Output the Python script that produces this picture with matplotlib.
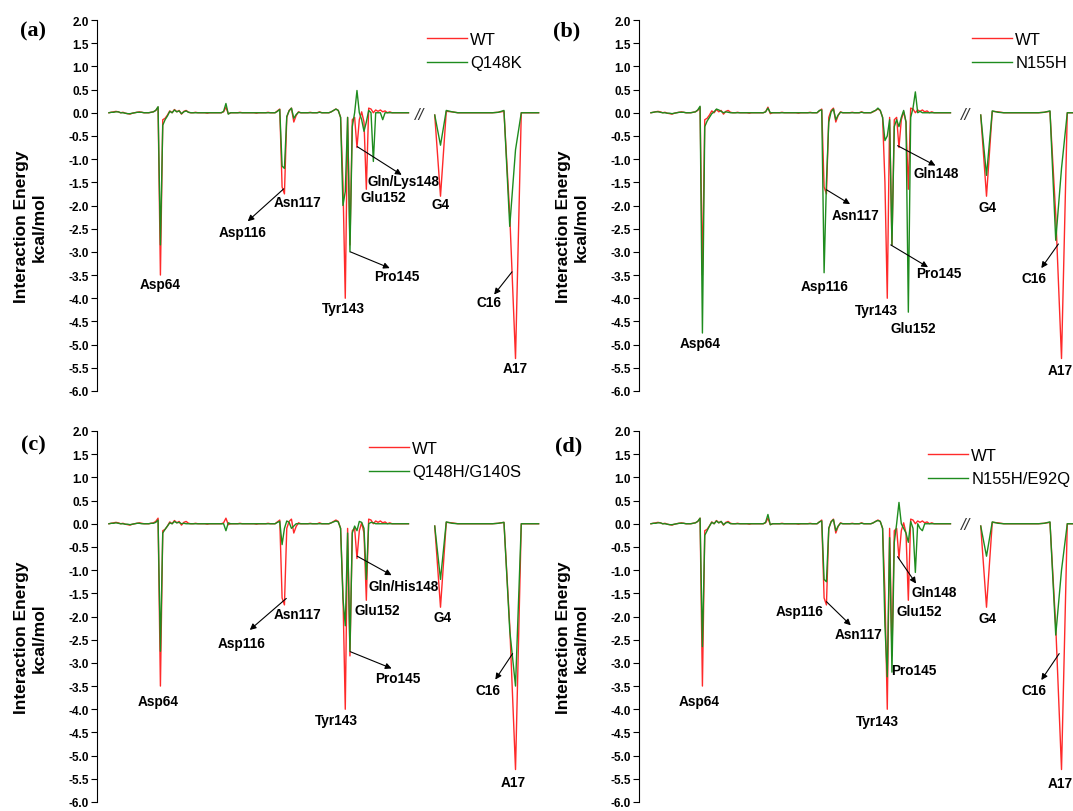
import numpy as np
import matplotlib.pyplot as plt

plt.rcParams['font.family'] = ['Liberation Sans', 'DejaVu Sans']

# x axis: protein residues, then (after the break) RNA nucleotides
prot_res = list(range(42, 171))
rna_nt = list(range(3, 22))

# interaction energy per residue (kcal/mol)
# rows of ten residues: 42-51, 52-61, ... 162-170
wt_prot = [
    0.0, 0.01, 0.02, 0.03, 0.02, 0.0, 0.01, -0.01, -0.02, -0.03,
    -0.01, 0.0, 0.01, 0.02, 0.01, 0.0, 0.0, 0.0, 0.01, 0.02,
    0.05, 0.12, -3.5, -0.15, -0.12, -0.05, 0.04, 0.0, 0.07, 0.02,
    0.05, -0.03, 0.03, 0.05, 0.01, 0.0, 0.0, 0.01, 0.0, 0.0,
    0.0, 0.0, -0.01, 0.0, 0.0, 0.0, 0.0, 0.0, 0.0, 0.02,
    0.12, -0.02, 0.0, 0.0, 0.0, 0.0, 0.01, 0.0, 0.0, 0.0,
    0.0, 0.0, 0.0, -0.01, 0.0, 0.0, 0.0, 0.0, 0.01, 0.0,
    0.0, 0.0, 0.04, 0.08, -1.6, -1.75, -0.1, 0.05, 0.1, -0.2,
    -0.06, 0.02, 0.0, 0.0, 0.0, 0.0, 0.01, 0.0, 0.0, 0.0,
    0.02, 0.0, 0.0, 0.0, 0.0, 0.02, 0.05, 0.08, 0.05, -0.1,
    -1.5, -4.0, -0.1, -2.85, -0.15, -0.1, -0.75, -0.15, 0.02, -0.2,
    -1.65, 0.1, 0.08, 0.0, 0.06, 0.03, 0.06, 0.02, 0.04, 0.0,
    0.02, 0.0, 0.0, 0.0, 0.0, 0.0, 0.0, 0.0, 0.0,
]
q148k_prot = [
    0.0, 0.01, 0.01, 0.02, 0.02, 0.0, 0.0, -0.01, -0.02, -0.02,
    -0.01, 0.0, 0.01, 0.01, 0.01, 0.0, 0.0, 0.0, 0.01, 0.02,
    0.05, 0.13, -2.85, -0.27, -0.15, -0.07, 0.03, 0.0, 0.06, 0.02,
    0.04, -0.02, 0.02, 0.04, 0.01, 0.0, 0.0, 0.0, 0.0, 0.0,
    0.0, 0.0, 0.0, 0.0, 0.0, 0.0, 0.0, 0.0, 0.0, 0.03,
    0.2, -0.03, 0.0, 0.0, 0.0, 0.0, 0.0, 0.0, 0.0, 0.0,
    0.0, 0.0, 0.0, 0.0, 0.0, 0.0, 0.0, 0.0, 0.0, 0.0,
    0.0, 0.0, 0.03, 0.07, -1.15, -1.2, -0.08, 0.04, 0.1, -0.12,
    -0.04, 0.01, 0.0, 0.0, 0.0, 0.0, 0.0, 0.0, 0.0, 0.0,
    0.01, 0.0, 0.0, 0.0, 0.0, 0.02, 0.05, 0.08, 0.05, -0.1,
    -2.0, -1.7, -0.1, -3.0, -0.3, 0.0, 0.48, 0.0, -0.15, -0.4,
    -0.2, 0.05, 0.0, -1.05, 0.0, 0.0, 0.0, -0.15, 0.0, 0.0,
    0.0, 0.0, 0.0, 0.0, 0.0, 0.0, 0.0, 0.0, 0.0,
]
n155h_prot = [
    0.0, 0.01, 0.02, 0.02, 0.01, 0.0, 0.0, -0.01, -0.01, -0.02,
    -0.01, 0.0, 0.01, 0.01, 0.01, 0.0, 0.0, 0.0, 0.01, 0.02,
    0.06, 0.14, -4.75, -0.3, -0.18, -0.1, -0.02, 0.02, 0.08, 0.06,
    0.03, 0.0, 0.02, 0.01, 0.0, 0.0, 0.0, 0.0, 0.0, 0.0,
    0.0, 0.0, 0.0, 0.0, 0.0, 0.0, 0.0, 0.0, 0.0, 0.02,
    0.1, 0.0, 0.0, 0.0, 0.0, 0.0, 0.0, 0.0, 0.0, 0.0,
    0.0, 0.0, 0.0, 0.0, 0.0, 0.0, 0.0, 0.0, 0.0, 0.0,
    0.0, 0.0, 0.05, 0.06, -3.45, -1.5, -0.2, 0.02, 0.08, -0.15,
    -0.05, 0.01, 0.0, 0.0, 0.0, 0.0, 0.0, 0.0, 0.0, 0.0,
    0.01, 0.0, 0.0, 0.0, 0.0, 0.03, 0.05, 0.1, 0.05, -0.1,
    -0.6, -0.5, -0.15, -2.85, -0.3, -0.15, -0.3, -0.1, 0.05, -0.2,
    -4.3, -0.1, 0.1, 0.45, 0.0, 0.03, 0.0, 0.0, 0.0, 0.0,
    0.0, 0.0, 0.0, 0.0, 0.0, 0.0, 0.0, 0.0, 0.0,
]
q148h_g140s_prot = [
    0.0, 0.01, 0.01, 0.02, 0.01, 0.0, 0.0, -0.01, -0.01, -0.02,
    -0.01, 0.0, 0.01, 0.01, 0.0, 0.0, 0.0, 0.0, 0.01, 0.01,
    0.03, 0.08, -2.75, -0.2, -0.12, -0.05, 0.02, 0.0, 0.05, 0.02,
    0.03, 0.0, 0.01, 0.0, 0.0, 0.0, 0.0, 0.0, 0.0, 0.0,
    0.0, 0.0, 0.0, 0.0, 0.0, 0.0, 0.0, 0.0, 0.0, 0.0,
    -0.15, 0.02, 0.0, 0.0, 0.0, 0.0, 0.0, 0.0, 0.0, 0.0,
    0.0, 0.0, 0.0, 0.0, 0.0, 0.0, 0.0, 0.0, 0.0, 0.0,
    0.0, 0.0, 0.03, 0.05, -0.45, -0.1, 0.06, 0.03, -0.1, -0.05,
    0.0, 0.0, 0.0, 0.0, 0.0, 0.0, 0.0, 0.0, 0.0, 0.0,
    0.0, 0.0, 0.0, 0.0, 0.0, 0.02, 0.04, 0.06, 0.04, -0.1,
    -1.6, -2.2, -0.2, -2.75, -0.2, -0.05, -0.15, 0.05, 0.03, -0.1,
    -1.2, 0.0, 0.03, 0.02, 0.0, 0.0, 0.0, 0.0, 0.0, 0.0,
    0.0, 0.0, 0.0, 0.0, 0.0, 0.0, 0.0, 0.0, 0.0,
]
n155h_e92q_prot = [
    0.0, 0.01, 0.01, 0.02, 0.02, 0.0, 0.0, -0.01, -0.02, -0.02,
    -0.01, 0.0, 0.01, 0.01, 0.01, 0.0, 0.0, 0.0, 0.01, 0.02,
    0.05, 0.12, -2.65, -0.25, -0.15, -0.05, 0.03, 0.0, 0.06, 0.02,
    0.05, -0.02, 0.02, 0.03, 0.0, 0.0, 0.0, 0.0, 0.0, 0.0,
    0.0, 0.0, 0.0, 0.0, 0.0, 0.0, 0.0, 0.0, 0.0, 0.03,
    0.2, -0.02, 0.0, 0.0, 0.0, 0.0, 0.0, 0.0, 0.0, 0.0,
    0.0, 0.0, 0.0, 0.0, 0.0, 0.0, 0.0, 0.0, 0.0, 0.0,
    0.0, 0.0, 0.04, 0.06, -1.2, -1.25, -0.1, 0.04, 0.09, -0.15,
    -0.05, 0.01, 0.0, 0.0, 0.0, 0.0, 0.0, 0.0, 0.0, 0.0,
    0.01, 0.0, 0.0, 0.0, 0.0, 0.02, 0.05, 0.07, 0.05, -0.1,
    -2.2, -3.3, -0.3, -3.2, -0.4, 0.0, 0.46, 0.0, -0.1, -0.2,
    -0.4, 0.05, -0.1, -1.05, 0.0, -0.1, -0.15, 0.0, 0.0, 0.0,
    0.0, 0.0, 0.0, 0.0, 0.0, 0.0, 0.0, 0.0, 0.0,
]

# RNA nucleotides 3-21
wt_rna = [-0.05, -1.8, 0.03, 0.02, 0.0, 0.0, 0.0, 0.0, 0.0, 0.0,
          0.0, 0.01, 0.03, -2.2, -5.3, 0.0, 0.0, 0.0, 0.0]
q148k_rna = [-0.05, -0.7, 0.05, 0.02, 0.0, 0.0, 0.0, 0.0, 0.0, 0.0,
             0.0, 0.01, 0.05, -2.45, -0.8, 0.0, 0.0, 0.0, 0.0]
n155h_rna = [-0.05, -1.35, 0.04, 0.01, 0.0, 0.0, 0.0, 0.0, 0.0, 0.0,
             0.0, 0.01, 0.04, -2.75, -1.2, 0.0, 0.0, 0.0, 0.0]
q148h_g140s_rna = [-0.05, -1.2, 0.04, 0.01, 0.0, 0.0, 0.0, 0.0, 0.0, 0.0,
                   0.0, 0.01, 0.03, -2.3, -3.5, 0.0, 0.0, 0.0, 0.0]
n155h_e92q_rna = [-0.05, -0.7, 0.04, 0.01, 0.0, 0.0, 0.0, 0.0, 0.0, 0.0,
                  0.0, 0.01, 0.04, -2.4, -1.0, 0.0, 0.0, 0.0, 0.0]

RED = '#ff2a2a'
GREEN = '#1e8c1e'

W, H = 1073, 812
fig = plt.figure(figsize=(W / 100, H / 100), dpi=100)


def px_axes(left, top, width, height):
    return fig.add_axes([left / W, 1 - (top + height) / H, width / W, height / H])


# labels: (part, text, x, y, arrow tail, arrow head)
labels_a = [
    ('p', 'Asp64', 64, -3.69, None, None),
    ('p', 'Asp116', 99.1, -2.57, (116.7, -1.64), (101.3, -2.34)),
    ('p', 'Asn117', 122.5, -1.93, None, None),
    ('p', 'Tyr143', 142, -4.22, None, None),
    ('p', 'Pro145', 165.2, -3.53, (145.2, -3.0), (162, -3.35)),
    ('p', 'Gln/Lys148', 167.9, -1.48, (148.1, -0.73), (167.1, -1.34)),
    ('p', 'Glu152', 159.1, -1.82, None, None),
    ('r', 'G4', 3.94, -1.97, None, None),
    ('r', 'C16', 12.4, -4.08, (16.4, -3.43), (13.3, -3.92)),
    ('r', 'A17', 16.9, -5.51, None, None),
]
labels_b = [
    ('p', 'Asp64', 63.1, -4.96, None, None),
    ('p', 'Asp116', 116.2, -3.74, None, None),
    ('p', 'Asn117', 129.3, -2.21, (117, -1.66), (127.1, -1.97)),
    ('p', 'Tyr143', 138.4, -4.25, None, None),
    ('p', 'Glu152', 154.3, -4.64, None, None),
    ('p', 'Pro145', 165, -3.46, (144.5, -2.85), (160.4, -3.33)),
    ('p', 'Gln148', 164, -1.3, (147.4, -0.71), (163.6, -1.14)),
    ('r', 'G4', 4.2, -2.04, None, None),
    ('r', 'C16', 12.3, -3.57, (16.46, -2.83), (13.5, -3.35)),
    ('r', 'A17', 16.8, -5.54, None, None),
]
labels_c = [
    ('p', 'Asp64', 63.1, -3.82, None, None),
    ('p', 'Asn117', 122.4, -1.95, None, None),
    ('p', 'Asp116', 98.9, -2.58, (117.8, -1.61), (102.2, -2.29)),
    ('p', 'Tyr143', 139, -4.24, None, None),
    ('p', 'Glu152', 156.6, -1.86, None, None),
    ('p', 'Pro145', 165.5, -3.32, (145.2, -2.76), (162.8, -3.12)),
    ('p', 'Gln/His148', 168, -1.35, (148.1, -0.7), (162.8, -1.11)),
    ('r', 'G4', 4.3, -2.02, None, None),
    ('r', 'C16', 12.3, -3.58, (16.5, -2.8), (13.5, -3.36)),
    ('r', 'A17', 16.6, -5.57, None, None),
]
labels_d = [
    ('p', 'Asp64', 62.7, -3.82, None, None),
    ('p', 'Asp116', 105.4, -1.88, None, None),
    ('p', 'Asn117', 130.7, -2.38, (117, -1.68), (127.4, -2.19)),
    ('p', 'Tyr143', 138.7, -4.26, None, None),
    ('p', 'Pro145', 154.3, -3.16, None, None),
    ('p', 'Glu152', 156.8, -1.88, None, None),
    ('p', 'Gln148', 163, -1.47, (147.4, -0.71), (155.3, -1.29)),
    ('r', 'G4', 4.2, -2.04, None, None),
    ('r', 'C16', 12.3, -3.58, (16.6, -2.8), (13.5, -3.37)),
    ('r', 'A17', 16.8, -5.59, None, None),
]

panels = [
    dict(tag='(a)', tag_xy=(33, 31), x0=97, top=21, rna_shift=0,
         name='Q148K', prot=q148k_prot, rna=q148k_rna, labels=labels_a,
         leg_xy=(427, 33), brk=420),
    dict(tag='(b)', tag_xy=(567, 31), x0=639, top=21, rna_shift=4,
         name='N155H', prot=n155h_prot, rna=n155h_rna, labels=labels_b,
         leg_xy=(972, 33), brk=966),
    dict(tag='(c)', tag_xy=(33, 445), x0=97, top=432, rna_shift=0,
         name='Q148H/G140S', prot=q148h_g140s_prot, rna=q148h_g140s_rna,
         labels=labels_c, leg_xy=(369, 442), brk=None),
    dict(tag='(d)', tag_xy=(569, 446), x0=639, top=432, rna_shift=4,
         name='N155H/E92Q', prot=n155h_e92q_prot, rna=n155h_e92q_rna,
         labels=labels_d, leg_xy=(928, 449), brk=966),
]

AX_H = 371
P_W = 316
yt = np.arange(-6.0, 2.01, 0.5)

for p in panels:
    x0, top = p['x0'], p['top']
    axp = px_axes(x0, top, P_W, AX_H)
    axr = px_axes(x0 + 330 + p['rna_shift'], top, 120, AX_H)
    axp.set_xlim(36.9, 36.9 + P_W / 2.34)
    axr.set_xlim(1.66, 1.66 + 120 / 5.77)
    for ax in (axp, axr):
        ax.set_ylim(-6, 2)
        ax.patch.set_alpha(0)
        for s in ('top', 'right', 'bottom'):
            ax.spines[s].set_visible(False)
        ax.set_xticks([])
    axr.spines['left'].set_visible(False)
    axr.set_yticks([])

    axp.set_yticks(yt)
    axp.set_yticklabels(['%.1f' % v for v in yt], fontsize=8.5, fontweight='bold')
    axp.tick_params(axis='y', direction='out', length=4, width=0.8, pad=2)
    axp.spines['left'].set_linewidth(0.8)
    axp.set_ylabel('Interaction Energy\nkcal/mol', fontsize=12.5,
                   fontweight='bold', linespacing=1.25)
    axp.yaxis.set_label_coords(-50 / P_W, 0.445)

    l1, = axp.plot(prot_res, wt_prot, color=RED, lw=1.0)
    l2, = axp.plot(prot_res, p['prot'], color=GREEN, lw=1.0)
    axr.plot(rna_nt, wt_rna, color=RED, lw=1.0)
    axr.plot(rna_nt, p['rna'], color=GREEN, lw=1.0)

    for part, txt, tx, ty, tail, head in p['labels']:
        ax = axp if part == 'p' else axr
        ax.text(tx, ty, txt, ha='center', va='center', fontsize=9.8,
                fontweight='bold', clip_on=False)
        if tail is not None:
            ax.annotate('', xy=head, xytext=tail, annotation_clip=False,
                        arrowprops=dict(arrowstyle='-|>', color='black', lw=0.8,
                                        mutation_scale=9, shrinkA=0, shrinkB=0))

    lx, ly = p['leg_xy']
    axp.legend([l1, l2], ['WT', p['name']], loc='upper left',
               bbox_to_anchor=(lx / W, 1 - ly / H), bbox_transform=fig.transFigure,
               frameon=False, fontsize=12, handlelength=2.4, handletextpad=0.2,
               labelspacing=0.5, borderpad=0, borderaxespad=0)

    if p['brk'] is not None:
        fig.text((p['brk']) / W, 1 - (top + 94) / H, '//', ha='center', va='center',
                 fontsize=12, style='italic', color='#333333')

    tx, ty = p['tag_xy']
    fig.text(tx / W, 1 - ty / H, p['tag'], ha='center', va='center', fontsize=16,
             fontweight='bold', family='Liberation Serif')

fig.savefig('out.png', dpi=100)
